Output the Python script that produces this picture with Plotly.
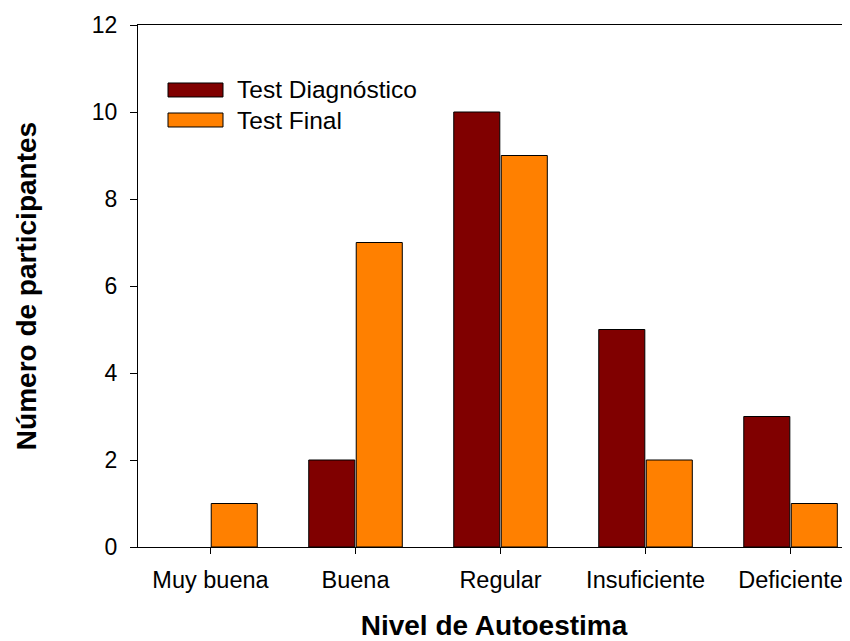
import plotly.graph_objects as go

categories = ["Muy buena", "Buena", "Regular", "Insuficiente", "Deficiente"]
diagnostico = [0, 2, 10, 5, 3]
final = [1, 7, 9, 2, 1]
series_names = ["Test Diagnóstico", "Test Final"]
colors = ["#800000", "#FF8000"]

FONT = "Liberation Sans, Arial, sans-serif"

fig = go.Figure()
for name, vals, col in zip(series_names, [diagnostico, final], colors):
    fig.add_trace(go.Bar(x=categories, y=vals, name=name,
                         marker=dict(color=col,
                                     line=dict(color="black",
                                               width=[0 if v == 0 else 1 for v in vals])),
                         showlegend=False))

# legend drawn manually to match wide swatches
leg_y = [0.8755, 0.818]
for name, col, yy in zip(series_names, colors, leg_y):
    fig.add_shape(type="rect", xref="paper", yref="paper",
                  x0=(168 - 138) / 712, x1=(223 - 138) / 712,
                  y0=yy - 0.0134, y1=yy + 0.0134,
                  fillcolor=col, line=dict(color="black", width=1))
    fig.add_annotation(x=(235 - 138) / 712, y=yy, xref="paper", yref="paper",
                       text=name, showarrow=False, xanchor="left", yanchor="middle",
                       font=dict(family=FONT, size=24.5, color="black"))

fig.update_layout(
    width=842, height=633,
    margin=dict(l=130, r=0, t=17, b=94),
    paper_bgcolor="white", plot_bgcolor="white",
    barmode="group", bargap=0.345, bargroupgap=0.03,
    font=dict(family=FONT, color="black"),
    xaxis=dict(range=[-0.5, 4.41], showline=True, linecolor="black", linewidth=1.3,
               mirror=True, ticks="outside", ticklen=6, tickcolor="black",
               ticklabelstandoff=6,
               showgrid=False, tickfont=dict(size=23.5, family=FONT),
               title=dict(text="<b>Nivel de Autoestima</b>", font=dict(size=28, family=FONT),
                          standoff=25)),
    yaxis=dict(range=[0, 12], dtick=2, showline=True, linecolor="black", linewidth=1.3,
               ticks="outside", ticklen=7, tickcolor="black", showgrid=False,
               ticklabelstandoff=8,
               zeroline=False, tickfont=dict(size=23, family=FONT),
               title=dict(text="<b>Número de participantes</b>", font=dict(size=28, family=FONT),
                          standoff=46)),
)

fig.write_html("out.html")
